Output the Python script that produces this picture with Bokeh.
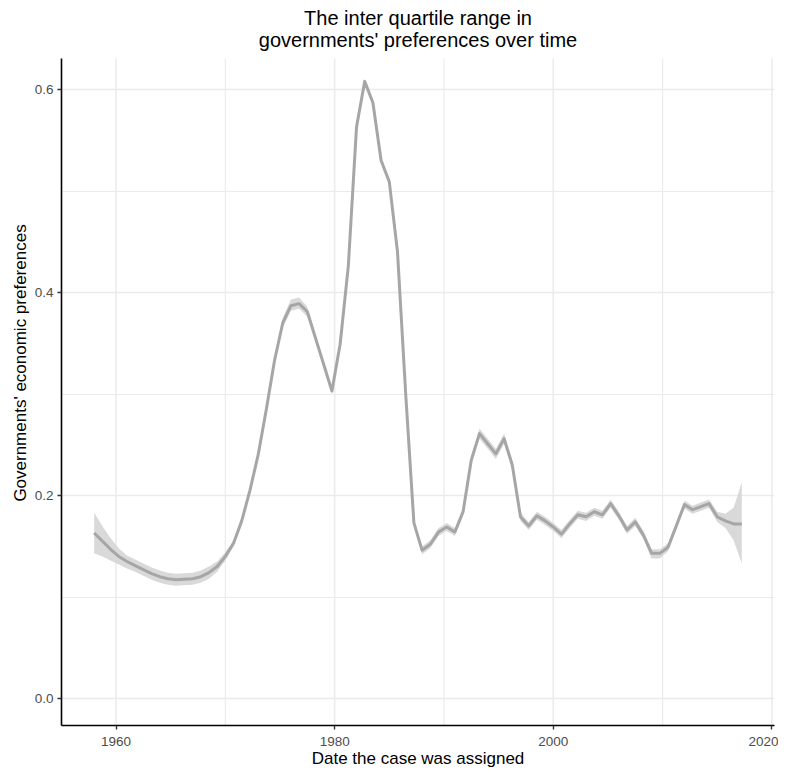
from bokeh.plotting import figure
from bokeh.models import Range1d, FixedTicker, PrintfTickFormatter, Label, ColumnDataSource
from bokeh.embed import file_html
from bokeh.resources import INLINE

title_lines = ["The inter quartile range in", "governments' preferences over time"]
x_title = "Date the case was assigned"
y_title = "Governments' economic preferences"

x_ticks = [1960, 1980, 2000, 2020]
x_minor = [1970, 1990, 2010]
y_ticks = [0.0, 0.2, 0.4, 0.6]
y_minor = [0.1, 0.3, 0.5]

years = [1958.0, 1958.75, 1959.5, 1960.25, 1961.0, 1961.75, 1962.5, 1963.25, 1964.0, 1964.75,
         1965.5, 1966.25, 1967.0, 1967.75, 1968.5, 1969.25, 1970.0, 1970.75, 1971.5, 1972.25,
         1973.0, 1973.75, 1974.5, 1975.25, 1976.0, 1976.75, 1977.5, 1978.25, 1979.0, 1979.75,
         1980.5, 1981.25, 1982.0, 1982.75, 1983.5, 1984.25, 1985.0, 1985.75, 1986.5, 1987.25,
         1988.0, 1988.75, 1989.5, 1990.25, 1991.0, 1991.75, 1992.5, 1993.25, 1994.0, 1994.75,
         1995.5, 1996.25, 1997.0, 1997.75, 1998.5, 1999.25, 2000.0, 2000.75, 2001.5, 2002.25,
         2003.0, 2003.75, 2004.5, 2005.25, 2006.0, 2006.75, 2007.5, 2008.25, 2009.0, 2009.75,
         2010.5, 2011.25, 2012.0, 2012.75, 2013.5, 2014.25, 2015.0, 2015.75, 2016.5, 2017.25]

iqr = [0.163, 0.155, 0.147, 0.140, 0.135, 0.131, 0.127, 0.123, 0.120, 0.118,
       0.117, 0.1175, 0.118, 0.120, 0.124, 0.130, 0.140, 0.153, 0.175, 0.205,
       0.240, 0.285, 0.333, 0.370, 0.387, 0.389, 0.381, 0.355, 0.329, 0.303,
       0.349, 0.426, 0.563, 0.608, 0.587, 0.530, 0.509, 0.440, 0.300, 0.173,
       0.146, 0.152, 0.164, 0.169, 0.164, 0.184, 0.235, 0.261, 0.251, 0.241,
       0.256, 0.230, 0.179, 0.170, 0.180, 0.175, 0.169, 0.162, 0.172, 0.181,
       0.179, 0.184, 0.181, 0.192, 0.180, 0.166, 0.174, 0.161, 0.143, 0.143,
       0.149, 0.170, 0.191, 0.186, 0.189, 0.192, 0.179, 0.175, 0.172, 0.172]

iqr_low = [0.143, 0.140, 0.136, 0.132, 0.128, 0.125, 0.121, 0.117, 0.114, 0.112,
           0.111, 0.1115, 0.112, 0.114, 0.118, 0.125, 0.136, 0.150, 0.172, 0.202,
           0.237, 0.282, 0.330, 0.365, 0.382, 0.384, 0.376, 0.351, 0.326, 0.300,
           0.347, 0.424, 0.561, 0.606, 0.585, 0.528, 0.507, 0.438, 0.298, 0.170,
           0.142, 0.148, 0.160, 0.165, 0.160, 0.180, 0.231, 0.256, 0.246, 0.236,
           0.251, 0.225, 0.175, 0.166, 0.176, 0.171, 0.165, 0.158, 0.168, 0.177,
           0.175, 0.180, 0.177, 0.188, 0.176, 0.162, 0.170, 0.157, 0.138, 0.138,
           0.145, 0.166, 0.187, 0.182, 0.185, 0.188, 0.174, 0.168, 0.156, 0.133]

iqr_high = [0.183, 0.170, 0.158, 0.148, 0.141, 0.137, 0.133, 0.129, 0.126, 0.124,
            0.123, 0.1235, 0.124, 0.126, 0.130, 0.135, 0.144, 0.156, 0.178, 0.208,
            0.243, 0.288, 0.336, 0.375, 0.393, 0.395, 0.386, 0.359, 0.332, 0.306,
            0.351, 0.428, 0.565, 0.610, 0.589, 0.532, 0.511, 0.442, 0.302, 0.176,
            0.150, 0.156, 0.168, 0.173, 0.168, 0.188, 0.239, 0.266, 0.256, 0.246,
            0.261, 0.235, 0.183, 0.174, 0.184, 0.179, 0.173, 0.166, 0.176, 0.185,
            0.183, 0.188, 0.185, 0.196, 0.184, 0.170, 0.178, 0.165, 0.147, 0.147,
            0.153, 0.174, 0.195, 0.190, 0.193, 0.196, 0.184, 0.182, 0.188, 0.213]

src = ColumnDataSource(data=dict(x=years, y=iqr, lo=iqr_low, hi=iqr_high))

FONT = "Liberation Sans"

# panel limits (the frame is extended upward to host the title)
X0, X1 = 1955.01, 2020.24
Y0, Y1 = -0.0266, 0.6305
FRAME_W, FRAME_H = 713, 725
PX_PER_UNIT = 1015.0
Y_TOP = Y0 + FRAME_H / PX_PER_UNIT

p = figure(frame_width=FRAME_W, frame_height=FRAME_H,
           min_border_left=61, min_border_right=4, min_border_top=0, min_border_bottom=41,
           x_range=Range1d(X0, X1), y_range=Range1d(Y0, Y_TOP),
           output_backend="svg", toolbar_location=None)

p.background_fill_color = "white"
p.border_fill_color = "white"
p.outline_line_color = None

xt = FixedTicker(ticks=x_ticks, minor_ticks=x_minor)
yt = FixedTicker(ticks=y_ticks, minor_ticks=y_minor)
p.xaxis.ticker = xt
p.yaxis.ticker = yt
p.ygrid.ticker = yt
p.yaxis.bounds = (Y0, Y1)
p.yaxis.formatter = PrintfTickFormatter(format="%.1f")
p.xaxis.formatter = PrintfTickFormatter(format="%d")

p.ygrid.grid_line_color = "#EBEBEB"
p.ygrid.grid_line_width = 1.5
p.ygrid.minor_grid_line_color = "#EBEBEB"
p.ygrid.minor_grid_line_width = 1.2
p.xgrid.visible = False

# vertical grid lines limited to the panel height
p.segment(x0=x_ticks, y0=[Y0] * len(x_ticks), x1=x_ticks, y1=[Y1] * len(x_ticks),
          line_color="#EBEBEB", line_width=1.5, level="underlay")
p.segment(x0=x_minor, y0=[Y0] * len(x_minor), x1=x_minor, y1=[Y1] * len(x_minor),
          line_color="#EBEBEB", line_width=1.2, level="underlay")

for ax in (p.xaxis, p.yaxis):
    ax.axis_line_color = "black"
    ax.axis_line_width = 1.6
    ax.major_tick_line_color = "#333333"
    ax.major_tick_line_width = 1.4
    ax.major_tick_out = 4
    ax.major_tick_in = 0
    ax.minor_tick_line_color = None
    ax.major_label_text_color = "#4D4D4D"
    ax.major_label_text_font = FONT
    ax.major_label_text_font_size = "13.5px"
    ax.axis_label_text_font = FONT
    ax.axis_label_text_font_size = "17px"
    ax.axis_label_text_font_style = "normal"
    ax.axis_label_text_color = "black"

p.xaxis.axis_label = x_title
p.yaxis.axis_label = y_title
p.xaxis.major_label_standoff = 7
p.yaxis.major_label_standoff = 4
p.xaxis.axis_label_standoff = 0
p.yaxis.axis_label_standoff = 2

# two-line centred title (baselines at pixel rows 17 and 39 from the top)
x_mid = (X0 + X1) / 2
for line, base_px in zip(title_lines, (17, 39)):
    p.add_layout(Label(x=x_mid, y=Y_TOP - base_px / PX_PER_UNIT, text=line,
                       text_align="center", text_baseline="alphabetic",
                       text_font=FONT, text_font_size="20px", text_color="black"))

p.varea(x="x", y1="lo", y2="hi", source=src, fill_color="#D9D9D9", fill_alpha=1.0)
p.line(x="x", y="y", source=src, line_color="#A6A6A6", line_width=3, line_join="round")

open("out.html", "w").write(file_html(p, INLINE))
